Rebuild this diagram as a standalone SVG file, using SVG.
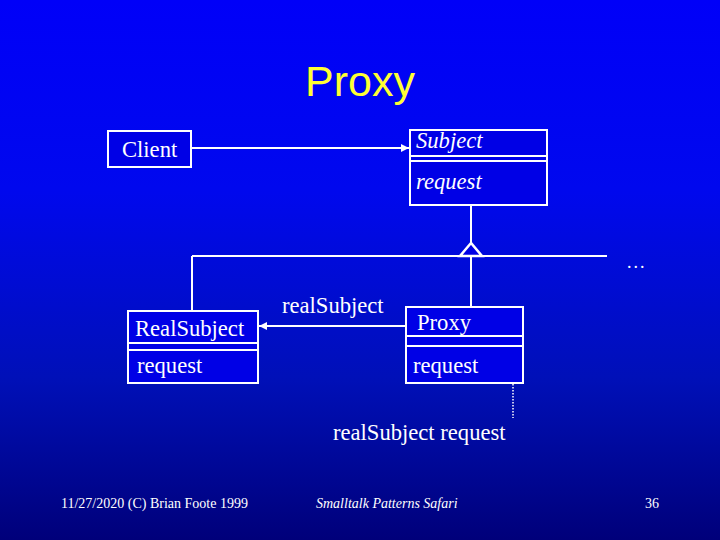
<svg xmlns="http://www.w3.org/2000/svg" width="720" height="540" viewBox="0 0 720 540">
<defs>
<linearGradient id="bg" x1="0" y1="0" x2="0" y2="1">
<stop offset="0" stop-color="#0000F8"/>
<stop offset="0.35" stop-color="#0008EE"/>
<stop offset="0.7" stop-color="#0010B8"/>
<stop offset="1" stop-color="#00007A"/>
</linearGradient>
<marker id="arr" viewBox="0 0 10 10" refX="10" refY="5" markerWidth="8" markerHeight="8" markerUnits="userSpaceOnUse" orient="auto">
<path d="M0,0 L10,5 L0,10 z" fill="#fff"/>
</marker>
<style>
.box{fill:#0000E6;stroke:#fff;stroke-width:2}
.ln{stroke:#fff;stroke-width:2;fill:none}
.t{font-family:"Liberation Serif","Times New Roman",serif;font-size:22.6px;fill:#fff}
.it{font-style:italic}
.ft{font-family:"Liberation Serif","Times New Roman",serif;font-size:14px;fill:#fff}
</style>
</defs>
<rect width="720" height="540" fill="url(#bg)"/>
<text x="360" y="96" text-anchor="middle" font-family="Liberation Sans, Arial, sans-serif" font-size="43" fill="#FFFF33">Proxy</text>

<g id="connectors">
<line class="ln" x1="191" y1="148" x2="409" y2="148" marker-end="url(#arr)"/>
<line class="ln" x1="471" y1="206" x2="471" y2="244"/>
<line class="ln" x1="192" y1="256" x2="607" y2="256"/>
<polygon points="471,243 460,256 482,256" fill="#0000E6" stroke="#fff" stroke-width="2.5"/>
<line class="ln" x1="192" y1="256" x2="192" y2="311"/>
<line class="ln" x1="471" y1="257" x2="471" y2="307"/>
<line class="ln" x1="406" y1="326" x2="259" y2="326" marker-end="url(#arr)"/>
<text class="t" x="282" y="313">realSubject</text>
<line x1="513" y1="366" x2="513" y2="418" stroke="#fff" stroke-width="1.5" stroke-dasharray="1.5,1.5"/>
<text x="627" y="268" font-family="Liberation Serif, serif" font-size="18" letter-spacing="2" fill="#fff">...</text>
</g>

<g id="client">
<rect class="box" x="108" y="131" width="83" height="36"/>
<text class="t" x="122" y="157">Client</text>
</g>

<g id="subject">
<rect class="box" x="410" y="130" width="137" height="75"/>
<line class="ln" x1="410" y1="156" x2="547" y2="156"/>
<line class="ln" x1="410" y1="161" x2="547" y2="161"/>
<text class="t it" x="416" y="148">Subject</text>
<text class="t it" x="416" y="189">request</text>
</g>

<g id="realsubject">
<rect class="box" x="128" y="311" width="130" height="72"/>
<line class="ln" x1="128" y1="343" x2="258" y2="343"/>
<line class="ln" x1="128" y1="350" x2="258" y2="350"/>
<text class="t" x="135" y="336">RealSubject</text>
<text class="t" x="137" y="373">request</text>
</g>

<g id="proxy">
<rect class="box" x="406" y="307" width="117" height="76"/>
<line class="ln" x1="406" y1="336" x2="523" y2="336"/>
<line class="ln" x1="406" y1="346" x2="523" y2="346"/>
<text class="t" x="417" y="330">Proxy</text>
<text class="t" x="413" y="373">request</text>
</g>

<g id="note">
<text class="t" x="333" y="440">realSubject request</text>
</g>

<g id="footer">
<text class="ft" x="61" y="508">11/27/2020 (C) Brian Foote 1999</text>
<text class="ft it" x="316" y="508">Smalltalk Patterns Safari</text>
<text class="ft" x="645" y="508">36</text>
</g>
</svg>
